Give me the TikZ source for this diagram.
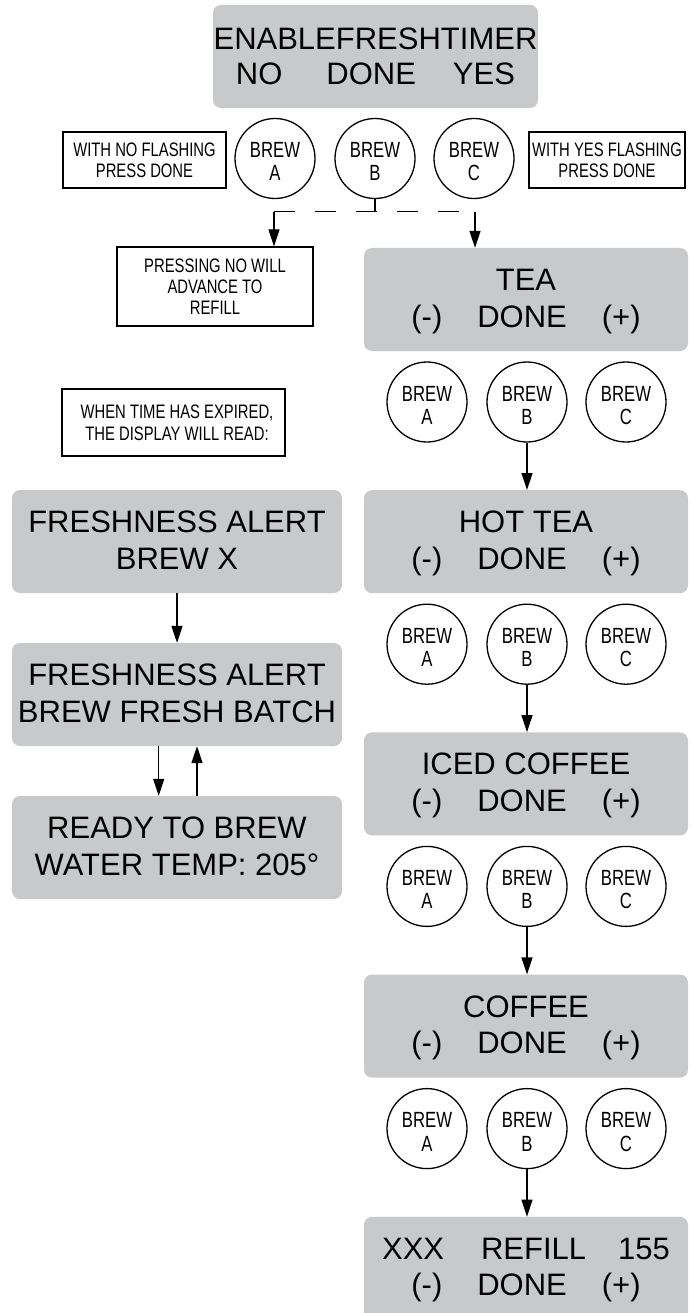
\documentclass[tikz,border=0pt]{standalone}
\usepackage{fontspec}
\setmainfont{Liberation Sans}
\newfontfamily\condfont[FakeStretch=0.76]{Liberation Sans}
\usetikzlibrary{arrows.meta}
\definecolor{dispgray}{RGB}{200,201,203}
\begin{document}
\begin{tikzpicture}[x=1pt,y=-1pt,
  disp/.style={fill=dispgray, rounded corners=8pt, inner sep=0pt, minimum height=103pt, align=center,
    font=\fontsize{31}{36.5}\selectfont, text height=55pt, text depth=0pt},
  dispR/.style={disp, minimum width=324pt},
  dispL/.style={disp, minimum width=330pt},
  brew/.style={circle, draw, line width=1.3pt, minimum size=80pt, inner sep=0pt, align=center,
    font=\condfont\fontsize{22}{23.5}\selectfont, text height=45pt, text depth=0pt},
  note/.style={draw, line width=1.3pt, inner sep=0pt, align=center, text depth=0pt,
    font=\condfont\fontsize{19.5}{21}\selectfont},
  conn/.style={line width=1.3pt},
  arr/.style={conn, -{Triangle[length=17pt,width=11pt]}},
  dashconn/.style={conn, dash pattern=on 21pt off 20pt}
]
\useasboundingbox (0,0) rectangle (693,1313);

% top display
\node[disp, minimum width=325pt, font=\fontsize{31}{35}\selectfont, text height=57pt] (top) at (375.5,56.5)
  {ENABLEFRESHTIMER\\NO\hspace{44pt}DONE\hspace{37pt}YES};

% top circles
\node[brew] (a0) at (275,158.5) {BREW\\A};
\node[brew] (b0) at (375,158.5) {BREW\\B};
\node[brew] (c0) at (474,158.5) {BREW\\C};

% side notes
\node[note, minimum width=163pt, minimum height=56pt, text height=36pt] (noteL) at (144.5,160)
  {WITH NO FLASHING\\PRESS DONE};
\node[note, minimum width=156pt, minimum height=56pt, text height=36pt] (noteR) at (607,160)
  {WITH YES FLASHING\\PRESS DONE};

% pressing no note
\node[note, minimum width=196pt, minimum height=79pt, text height=55pt, font=\condfont\fontsize{19.5}{20.5}\selectfont] (noteP) at (215,286.5)
  {PRESSING NO WILL\\ADVANCE TO\\REFILL};

% when time note
\node[note, minimum width=223pt, minimum height=67pt, text height=35pt, font=\condfont\fontsize{19.5}{22}\selectfont] (noteW) at (173.5,422.5)
  {\hspace*{7pt}WHEN TIME HAS EXPIRED,\\\hspace*{7pt}THE DISPLAY WILL READ:};

% right column displays
\node[dispR] (tea) at (526,299.5) {TEA\\(-)\hspace{35pt}DONE\hspace{35pt}(+)};
\node[brew] (a1) at (427,402) {BREW\\A};
\node[brew] (b1) at (527,402) {BREW\\B};
\node[brew] (c1) at (626,402) {BREW\\C};

\node[dispR] (hot) at (526,541.7) {HOT TEA\\(-)\hspace{35pt}DONE\hspace{35pt}(+)};
\node[brew] (a2) at (427,644.2) {BREW\\A};
\node[brew] (b2) at (527,644.2) {BREW\\B};
\node[brew] (c2) at (626,644.2) {BREW\\C};

\node[dispR] (iced) at (526,783.9) {ICED COFFEE\\(-)\hspace{35pt}DONE\hspace{35pt}(+)};
\node[brew] (a3) at (427,886.4) {BREW\\A};
\node[brew] (b3) at (527,886.4) {BREW\\B};
\node[brew] (c3) at (626,886.4) {BREW\\C};

\node[dispR] (coffee) at (526,1026.1) {COFFEE\\(-)\hspace{35pt}DONE\hspace{35pt}(+)};
\node[brew] (a4) at (427,1128.6) {BREW\\A};
\node[brew] (b4) at (527,1128.6) {BREW\\B};
\node[brew] (c4) at (626,1128.6) {BREW\\C};

\node[dispR] (refill) at (526,1268.3) {XXX\hspace{37pt}REFILL\hspace{32pt}155\\(-)\hspace{35pt}DONE\hspace{35pt}(+)};

% left column displays
\node[dispL] (fa1) at (177,541.5) {FRESHNESS ALERT\\BREW X};
\node[dispL] (fa2) at (177,694.5) {FRESHNESS ALERT\\BREW FRESH BATCH};
\node[dispL] (ready) at (177,847.5) {READY TO BREW\\WATER TEMP: 205°};

% connectors top
\coordinate (jL) at (274,211.7);
\coordinate (jR) at (475,211.7);
\draw[conn] (b0.south) -- (b0.south |- jL);
\draw[dashconn] (jL) -- (jR);
\draw[arr] (jL) -- (jL |- noteP.north);
\draw[arr] (jR) -- (jR |- tea.north);

% right column connectors
\draw[arr] (b1.south) -- (b1.south |- hot.north);
\draw[arr] (b2.south) -- (b2.south |- iced.north);
\draw[arr] (b3.south) -- (b3.south |- coffee.north);
\draw[arr] (b4.south) -- (b4.south |- refill.north);

% left column connectors
\draw[arr] (fa1.south) -- (fa2.north);
\draw[arr] ([xshift=-18.3pt]fa2.south) -- ([xshift=-18.3pt]ready.north);
\draw[arr] ([xshift=20pt]ready.north) -- ([xshift=20pt]fa2.south);
\end{tikzpicture}
\end{document}
